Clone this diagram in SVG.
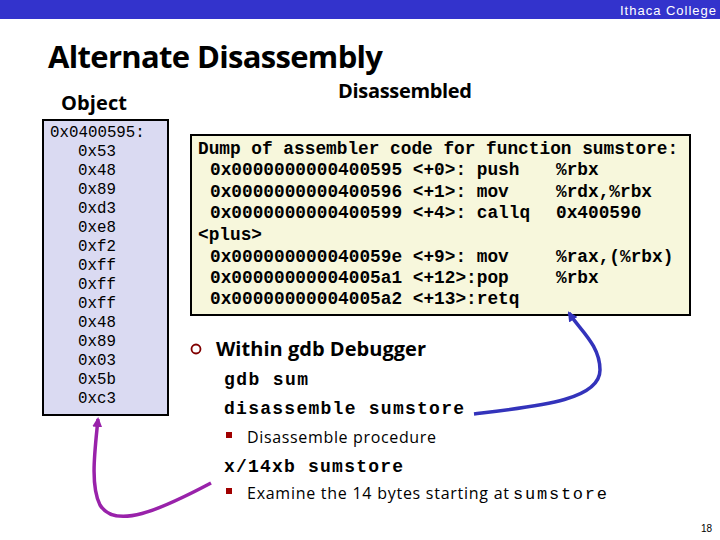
<svg xmlns="http://www.w3.org/2000/svg" width="720" height="540" viewBox="0 0 720 540">
<style>
.h{font-family:"Open Sans","Liberation Sans",sans-serif;font-weight:bold;fill:#000}
.m{font-family:"Liberation Mono","Courier New",monospace;font-weight:bold;fill:#000}
.mo{font-family:"Liberation Mono",monospace;fill:#000}
.b{font-family:"Open Sans","Liberation Sans",sans-serif;font-size:16px;fill:#000}
</style>
<defs>
<marker id="ab" markerWidth="10" markerHeight="10" refX="8" refY="5" orient="auto" markerUnits="userSpaceOnUse"><path d="M0,0 L10,5 L0,10 z" fill="#3333BB"/></marker>
<marker id="ap" markerWidth="10" markerHeight="10" refX="8" refY="5" orient="auto" markerUnits="userSpaceOnUse"><path d="M0,0 L10,5 L0,10 z" fill="#9922AA"/></marker>
</defs>
<rect x="0" y="0" width="720" height="19" fill="#3333CC"/>
<text x="716" y="15" text-anchor="end" font-family="Liberation Sans Narrow,Liberation Sans,sans-serif" font-size="13" textLength="96" fill="#fff">Ithaca College</text>
<text class="h" x="48" y="68" font-size="31" textLength="335">Alternate Disassembly</text>
<text class="h" x="61" y="110" font-size="20" font-weight="normal" textLength="66">Object</text>
<text class="h" x="338" y="98" font-size="20" textLength="134">Disassembled</text>
<g id="object">
<rect x="43" y="120" width="125" height="295" fill="#DADAF2" stroke="#000" stroke-width="2"/>
<text class="mo" font-size="15.8">
<tspan x="50" y="137">0x0400595:</tspan>
<tspan x="78" y="156">0x53</tspan><tspan x="78" y="175">0x48</tspan><tspan x="78" y="194">0x89</tspan><tspan x="78" y="213">0xd3</tspan><tspan x="78" y="232">0xe8</tspan><tspan x="78" y="251">0xf2</tspan><tspan x="78" y="270">0xff</tspan><tspan x="78" y="289">0xff</tspan><tspan x="78" y="308">0xff</tspan><tspan x="78" y="327">0x48</tspan><tspan x="78" y="346">0x89</tspan><tspan x="78" y="365">0x03</tspan><tspan x="78" y="384">0x5b</tspan><tspan x="78" y="403">0xc3</tspan>
</text>
</g>
<g id="disassembled">
<rect x="191" y="135" width="499" height="180" fill="#F7F7DC" stroke="#000" stroke-width="2"/>
<text class="m" font-size="17.8">
<tspan x="198" y="154">Dump of assembler code for function sumstore:</tspan>
<tspan x="210" y="175">0x0000000000400595 &lt;+0&gt;: push</tspan><tspan x="556" y="175">%rbx</tspan>
<tspan x="210" y="197">0x0000000000400596 &lt;+1&gt;: mov</tspan><tspan x="556" y="197">%rdx,%rbx</tspan>
<tspan x="210" y="218">0x0000000000400599 &lt;+4&gt;: callq</tspan><tspan x="556" y="218">0x400590</tspan>
<tspan x="198" y="240">&lt;plus&gt;</tspan>
<tspan x="210" y="262">0x000000000040059e &lt;+9&gt;: mov</tspan><tspan x="556" y="262">%rax,(%rbx)</tspan>
<tspan x="210" y="283">0x00000000004005a1 &lt;+12&gt;:pop</tspan><tspan x="556" y="283">%rbx</tspan>
<tspan x="210" y="304">0x00000000004005a2 &lt;+13&gt;:retq</tspan>
</text>
</g>
<g id="text">
<circle cx="196" cy="349" r="4.5" fill="none" stroke="#800000" stroke-width="1.8"/>
<text class="h" x="216" y="356" font-size="20" textLength="210">Within gdb Debugger</text>
<text class="m" x="224" y="385" font-size="18" textLength="84">gdb sum</text>
<text class="m" x="224" y="414" font-size="18" textLength="240">disassemble sumstore</text>
<rect x="226" y="432" width="6" height="6" fill="#A00000"/>
<text class="b" x="247" y="443" textLength="189">Disassemble procedure</text>
<text class="m" x="224" y="472" font-size="18" textLength="179">x/14xb sumstore</text>
<rect x="226" y="488" width="6" height="6" fill="#A00000"/>
<text class="b" x="247" y="499" textLength="262">Examine the 14 bytes starting at</text>
<text class="mo" x="513" y="499" font-size="17" textLength="94">sumstore</text>
</g>
<g id="connectors" fill="none" stroke-width="3.5">
<path d="M474,414 C540,406 600,400 600,370 C600,345 580,330 569,313" stroke="#3333BB" marker-end="url(#ab)"/>
<path d="M211,483 C160,510 115,530 100,505 C90,485 95,450 98,419" stroke="#9922AA" marker-end="url(#ap)"/>
</g>
<text x="712" y="532" text-anchor="end" font-family="Liberation Sans,sans-serif" font-size="10">18</text>
</svg>
